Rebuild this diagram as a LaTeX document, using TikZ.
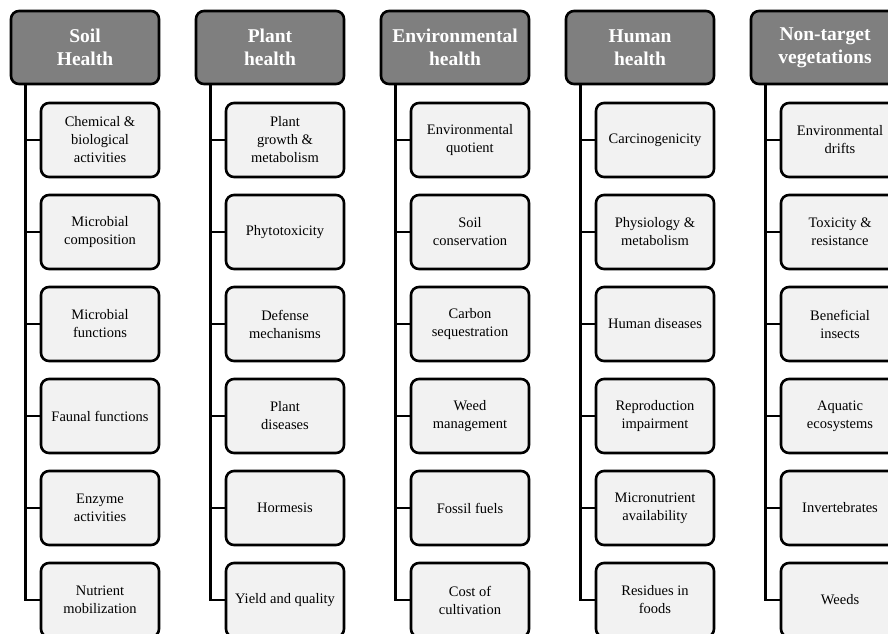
\documentclass[tikz,border=0pt]{standalone}
\usepackage{fontspec}
\setmainfont{Liberation Serif}
\definecolor{headgray}{HTML}{7F7F7F}
\definecolor{itemgray}{HTML}{F2F2F2}
\tikzset{
  headbox/.style={draw=black, line width=2.6pt, rounded corners=8pt, fill=headgray,
    minimum width=148pt, minimum height=73pt, align=center, text=white,
    font=\bfseries\fontsize{19.5}{23}\selectfont, inner sep=2pt},
  itembox/.style={draw=black, line width=2.6pt, rounded corners=8pt, fill=itemgray,
    minimum width=118pt, minimum height=74pt, align=center, text=black,
    font=\fontsize{14.5}{18}\selectfont, inner sep=2pt},
  link/.style={draw=black, line width=2.6pt}
}
\begin{document}
\begin{tikzpicture}[x=1pt,y=-1pt]
\useasboundingbox (0,0) rectangle (888,633);
% column 1
\node[headbox] (h1) at (85,47.5) {Soil\\Health};
\node[itembox] (a1) at (100,140) {Chemical \&\\biological\\activities};
\node[itembox] (a2) at (100,232) {Microbial\\composition};
\node[itembox] (a3) at (100,324) {Microbial\\functions};
\node[itembox] (a4) at (100,416) {Faunal functions};
\node[itembox] (a5) at (100,508) {Enzyme\\activities};
\node[itembox] (a6) at (100,600) {Nutrient\\mobilization};
% column 2
\node[headbox] (h2) at (270,47.5) {Plant\\health};
\node[itembox] (b1) at (285,140) {Plant\\growth \&\\metabolism};
\node[itembox] (b2) at (285,232) {Phytotoxicity};
\node[itembox] (b3) at (285,324) {Defense\\mechanisms};
\node[itembox] (b4) at (285,416) {Plant\\diseases};
\node[itembox] (b5) at (285,508) {Hormesis};
\node[itembox] (b6) at (285,600) {Yield and quality};
% column 3
\node[headbox] (h3) at (455,47.5) {Environmental\\health};
\node[itembox] (c1) at (470,140) {Environmental\\quotient};
\node[itembox] (c2) at (470,232) {Soil\\conservation};
\node[itembox] (c3) at (470,324) {Carbon\\sequestration};
\node[itembox] (c4) at (470,416) {Weed\\management};
\node[itembox] (c5) at (470,508) {Fossil fuels};
\node[itembox] (c6) at (470,600) {Cost of\\cultivation};
% column 4
\node[headbox] (h4) at (640,47.5) {Human\\health};
\node[itembox] (d1) at (655,140) {Carcinogenicity};
\node[itembox] (d2) at (655,232) {Physiology \&\\metabolism};
\node[itembox] (d3) at (655,324) {Human diseases};
\node[itembox] (d4) at (655,416) {Reproduction\\impairment};
\node[itembox] (d5) at (655,508) {Micronutrient\\availability};
\node[itembox] (d6) at (655,600) {Residues in\\foods};
% column 5
\node[headbox] (h5) at (825,47.5) {Non-target\\vegetations};
\node[itembox] (e1) at (840,140) {Environmental\\drifts};
\node[itembox] (e2) at (840,232) {Toxicity \&\\resistance};
\node[itembox] (e3) at (840,324) {Beneficial\\insects};
\node[itembox] (e4) at (840,416) {Aquatic\\ecosystems};
\node[itembox] (e5) at (840,508) {Invertebrates};
\node[itembox] (e6) at (840,600) {Weeds};
% connectors
\foreach \h/\p in {h1/a,h2/b,h3/c,h4/d,h5/e}{
  \draw[link] ([xshift=16pt]\h.south west) |- (\p6.west);
  \foreach \k in {1,...,5}{
    \draw[link] ([xshift=16pt]\h.south west |- \p\k.west) -- (\p\k.west);
  }
}
\end{tikzpicture}
\end{document}
